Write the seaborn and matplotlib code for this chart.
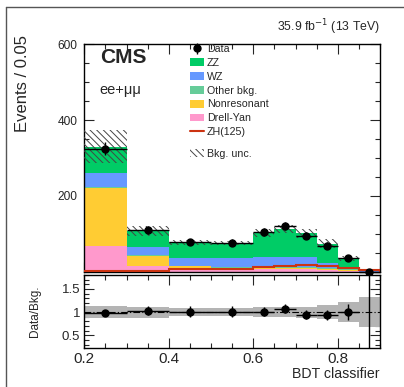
import numpy as np
import pandas as pd
import matplotlib
matplotlib.use("Agg")
import matplotlib.pyplot as plt
from matplotlib.patches import Patch
from matplotlib.lines import Line2D
from matplotlib.ticker import MultipleLocator, FixedLocator
import seaborn as sns

# ---- binning -------------------------------------------------------------
bin_edges = [0.2, 0.3, 0.4, 0.5, 0.6, 0.65, 0.7, 0.75, 0.8, 0.85, 0.9]

# ---- expected backgrounds per bin (stacked) --------------------------------
zz          = [70, 42, 41, 40, 65, 73, 61, 51, 25.0, 0.4]
wz          = [37, 21, 20, 23, 24, 27, 27, 13, 4.0, 0.2]
other_bkg   = [3,  2,  2,  2,  3,  3,  3,  3,  2.0, 0.1]
nonresonant = [153, 26, 8, 6,  5,  4,  4,  3,  2.0, 0.1]
drell_yan   = [67, 16, 6,  5,  6,  6,  6,  4,  2.0, 0.2]

# ---- signal (drawn as a line, not stacked) --------------------------------
zh125 = [3, 3, 6, 8, 13, 16, 17, 16, 9, 4]

# ---- observed data ----------------------------------------------------------
data_counts = [325, 110, 78, 77, 104, 121, 95, 69, 35, 0]
data_err_lo = [18.0, 10.5, 8.8, 8.8, 10.2, 11.0, 9.7, 8.3, 5.9, 0.0]
data_err_hi = [18.0, 10.5, 8.8, 8.8, 10.2, 11.0, 9.7, 8.3, 5.9, 1.84]

# relative uncertainty on the total background
bkg_rel_unc = [0.13, 0.12, 0.09, 0.08, 0.10, 0.10, 0.12, 0.15, 0.21, 0.33]

processes = ["ZZ", "WZ", "Other bkg.", "Nonresonant", "Drell-Yan"]
colors = {
    "ZZ": "#00cc66",
    "WZ": "#6699ff",
    "Other bkg.": "#66cc99",
    "Nonresonant": "#ffcc33",
    "Drell-Yan": "#ff99cc",
}
zh_color = "#cc3311"

# ---- style ------------------------------------------------------------------
sns.set_style("ticks")
plt.rcParams["font.family"] = ["Liberation Sans", "DejaVu Sans"]
plt.rcParams["hatch.linewidth"] = 0.7
plt.rcParams["hatch.color"] = "#444444"

edges = np.array(bin_edges)
centers = 0.5 * (edges[:-1] + edges[1:])
half_w = 0.5 * np.diff(edges)

rows = []
for name, vals in zip(processes, [zz, wz, other_bkg, nonresonant, drell_yan]):
    for c, v in zip(centers, vals):
        rows.append({"bdt": c, "events": v, "process": name})
df = pd.DataFrame(rows)

total = np.sum([zz, wz, other_bkg, nonresonant, drell_yan], axis=0)
unc = total * np.array(bkg_rel_unc)
data = np.array(data_counts, dtype=float)
elo = np.array(data_err_lo)
ehi = np.array(data_err_hi)

W, H = 404, 387
fig = plt.figure(figsize=(W / 100, H / 100), dpi=100)

def fig_rect(x0, y0, x1, y1):
    return [x0 / W, 1 - y1 / H, (x1 - x0) / W, (y1 - y0) / H]

ax = fig.add_axes(fig_rect(84.3, 44.3, 380, 271.7))
axr = fig.add_axes(fig_rect(84.3, 275, 380, 348.3), sharex=ax)

# stacked backgrounds (first hue level ends up on top of the stack)
sns.histplot(
    data=df, x="bdt", weights="events", hue="process", hue_order=processes,
    bins=list(bin_edges), multiple="stack", element="bars", palette=colors,
    alpha=1, linewidth=0, edgecolor="none", shrink=1, legend=False, ax=ax,
)

# background uncertainty band
ax.bar(centers, 2 * unc, bottom=total - unc, width=np.diff(edges),
       fill=False, hatch="\\\\\\\\\\", linewidth=0, edgecolor="#444444", zorder=3)

# ZH(125) line
ax.stairs(zh125, edges, color=zh_color, linewidth=1.5, zorder=4)

# data
ax.errorbar(centers, data, xerr=half_w, yerr=[elo, ehi], fmt="o", color="black",
            markersize=5, elinewidth=1.0, capsize=0, zorder=6, clip_on=False)

ax.set_xlim(0.2, 0.9)
ax.set_ylim(0, 600)
ax.set_xlabel("")
ax.yaxis.set_major_locator(FixedLocator([200, 400, 600]))
ax.yaxis.set_minor_locator(MultipleLocator(50))
ax.xaxis.set_major_locator(MultipleLocator(0.2))
ax.xaxis.set_minor_locator(MultipleLocator(0.05))
ax.tick_params(axis="x", labelbottom=False)
ax.tick_params(which="both", direction="in", top=True, right=True, width=0.8)
ax.tick_params(which="major", length=7)
ax.tick_params(which="minor", length=3.5)
ax.tick_params(axis="y", labelsize=8.6, pad=5)
ax.set_ylabel("Events / 0.05", fontsize=12, loc="top")
ax.yaxis.set_label_coords(-0.184, 1.041)

# ---- ratio panel ------------------------------------------------------------
ratio = data / total
r_lo = elo / total
r_hi = ehi / total
axr.bar(centers, 2 * np.array(bkg_rel_unc), bottom=1 - np.array(bkg_rel_unc),
        width=np.diff(edges), color="#b4b4b4", linewidth=0, zorder=1)
axr.axhline(1, color="black", linestyle=(0, (6, 2, 1, 2)), linewidth=0.8, zorder=2)
axr.errorbar(centers, ratio, xerr=half_w, yerr=[r_lo, r_hi], fmt="o", color="black",
             markersize=5, elinewidth=1.0, capsize=0, zorder=5)
axr.set_ylim(0.22, 1.8)
axr.yaxis.set_major_locator(FixedLocator([0.5, 1.0, 1.5]))
axr.yaxis.set_minor_locator(MultipleLocator(0.1))
axr.set_yticklabels(["0.5", "1", "1.5"])
axr.set_xticks([0.2, 0.4, 0.6, 0.8])
axr.set_xticklabels(["0.2", "0.4", "0.6", "0.8"])
axr.xaxis.set_minor_locator(MultipleLocator(0.05))
axr.set_xlim(0.2, 0.9)
axr.tick_params(which="both", direction="in", top=True, right=True, width=0.8)
axr.tick_params(which="major", length=7)
axr.tick_params(which="minor", length=3.5)
axr.tick_params(axis="y", labelsize=9.5, pad=3)
axr.tick_params(axis="x", labelsize=11, pad=3)
axr.set_ylabel("Data/Bkg.", fontsize=8.5)
axr.yaxis.set_label_coords(-0.146, 0.5)
axr.set_xlabel("BDT classifier", fontsize=10.2, loc="right")
axr.xaxis.set_label_coords(1.0, -0.25)

for a in (ax, axr):
    for s in a.spines.values():
        s.set_linewidth(1.0)
        s.set_color("black")

# ---- annotations --------------------------------------------------------------
fig.text(380 / W, 1 - 31 / H, "35.9 fb$^{-1}$ (13 TeV)", ha="right", va="baseline",
         fontsize=8.8)
fig.text(100 / W, 1 - 63 / H, "CMS", ha="left", va="baseline", fontsize=15,
         fontweight="bold")
fig.text(99 / W, 1 - 90 / H, "ee+\u03bc\u03bc", ha="left", va="center", fontsize=10.5)

# ---- legend ----------------------------------------------------------------------
data_handle = ax.errorbar([np.nan], [np.nan], yerr=[1.0], fmt="o", color="black",
                          markersize=5, elinewidth=1.0, capsize=0)
handles = [data_handle] + [Patch(facecolor=colors[p], edgecolor="none") for p in processes] \
    + [Line2D([], [], color=zh_color, linewidth=1.5)]
labels = ["Data"] + processes + ["ZH(125)"]
leg = ax.legend(handles, labels, loc="upper left", bbox_to_anchor=(190 / W, 1 - 44 / H),
                bbox_transform=fig.transFigure, frameon=False, borderpad=0,
                fontsize=7.7, handlelength=1.3, handleheight=0.75, handletextpad=0.3,
                labelspacing=0.36, borderaxespad=0)
ax.add_artist(leg)
ax.legend([Patch(facecolor="white", hatch="\\\\\\\\\\", edgecolor="#444444", linewidth=0)],
          ["Bkg. unc."], loc="upper left", bbox_to_anchor=(190 / W, 1 - 149 / H),
          bbox_transform=fig.transFigure, frameon=False, borderpad=0, fontsize=7.7,
          handlelength=1.3, handleheight=0.75, handletextpad=0.3, borderaxespad=0)

# outer frame
fig.add_artist(Line2D([6 / W, 6 / W], [0, 1 - 7 / H], transform=fig.transFigure,
                      color="#555555", linewidth=1.0))
fig.add_artist(Line2D([6 / W, 1], [1 - 7 / H, 1 - 7 / H], transform=fig.transFigure,
                      color="#555555", linewidth=1.0))

fig.savefig("out.png", dpi=100)
